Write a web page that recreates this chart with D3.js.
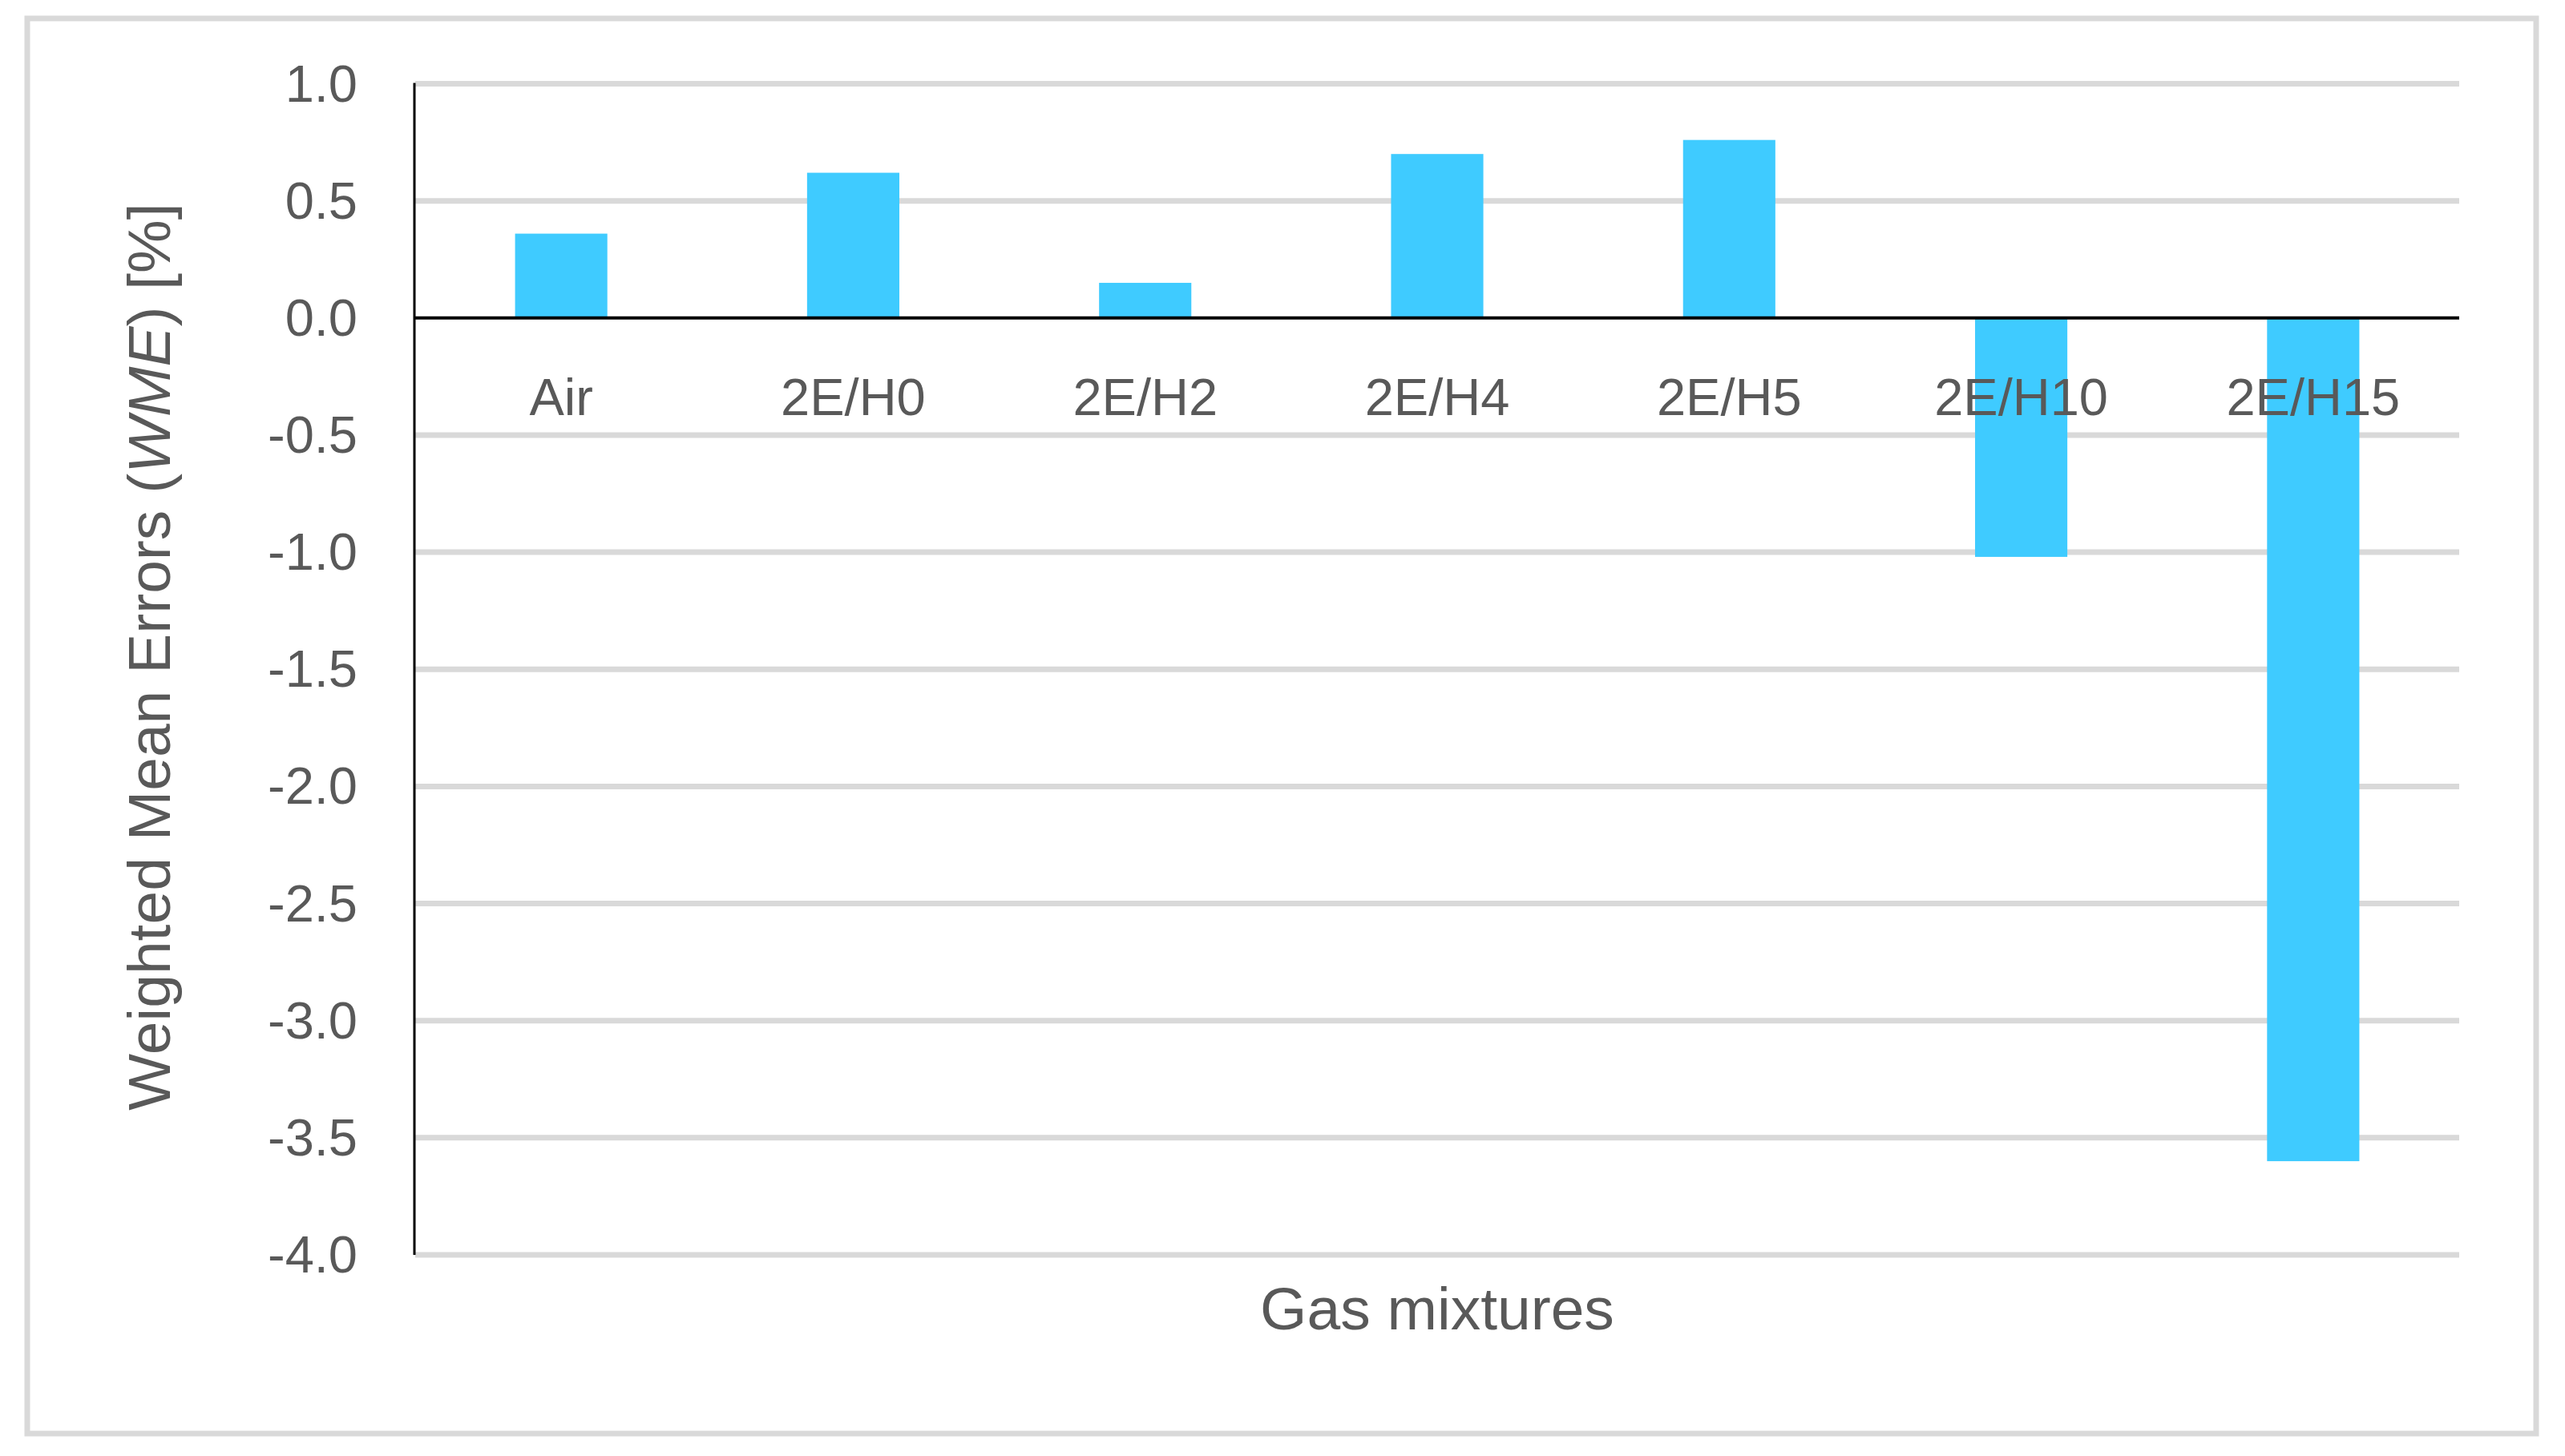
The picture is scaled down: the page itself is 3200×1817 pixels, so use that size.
<!DOCTYPE html>
<meta charset="utf-8">
<style>
  body { margin: 0; background: #fff; }
  svg { display: block; font-family: "Liberation Sans", Arial, sans-serif; }
  .grid line { stroke: #d9d9d9; stroke-width: 7; }
  .lbl { fill: #595959; }
</style>
<svg></svg>
<script src="https://d3js.org/d3.v7.min.js"></script>
<script>

// chart values
var categories = ["Air", "2E/H0", "2E/H2", "2E/H4", "2E/H5", "2E/H10", "2E/H15"];
var wme = [0.36, 0.62, 0.15, 0.70, 0.76, -1.02, -3.60];
var yTicks = [1.0, 0.5, 0.0, -0.5, -1.0, -1.5, -2.0, -2.5, -3.0, -3.5, -4.0];
var xTitle = "Gas mixtures";

var width = 3200, height = 1817;
var plotLeft = 518, plotRight = 3068, plotTop = 104.5, plotBottom = 1566;

var svg = d3.select("svg").attr("width", width).attr("height", height);

//outer frame
svg.append("rect")
  .attr("x", 34).attr("y", 23).attr("width", 3130).attr("height", 1766)
  .attr("fill", "#fff").attr("stroke", "#d9d9d9").attr("stroke-width", 7);

var y = d3.scaleLinear().domain([-4, 1]).range([plotBottom, plotTop]);
var x = d3.scaleBand().domain(categories).range([plotLeft, plotRight])
  .paddingInner(0.684).paddingOuter(0.342);

//gridlines
svg.append("g").attr("class", "grid")
  .selectAll("line").data(yTicks.filter(function(d) { return d !== 0; }))
  .enter().append("line")
  .attr("x1", plotLeft).attr("x2", plotRight)
  .attr("y1", function(d) { return y(d); }).attr("y2", function(d) { return y(d); });

//bars
svg.append("g").selectAll("rect").data(wme)
  .enter().append("rect")
  .attr("x", function(d, i) { return x(categories[i]); })
  .attr("width", x.bandwidth())
  .attr("y", function(d) { return y(Math.max(0, d)); })
  .attr("height", function(d) { return Math.abs(y(d) - y(0)); })
  .attr("fill", "#3fcbff");

//zero line and left axis
svg.append("line")
  .attr("x1", plotLeft).attr("x2", plotRight).attr("y1", y(0)).attr("y2", y(0))
  .attr("stroke", "#000").attr("stroke-width", 4);
svg.append("line")
  .attr("x1", plotLeft - 1).attr("x2", plotLeft - 1).attr("y1", plotTop - 1).attr("y2", plotBottom)
  .attr("stroke", "#000").attr("stroke-width", 3);

//y tick labels
svg.append("g").selectAll("text").data(yTicks)
  .enter().append("text").attr("class", "lbl")
  .attr("x", 446).attr("y", function(d) { return y(d) + 22; })
  .attr("text-anchor", "end").attr("font-size", 65)
  .text(function(d) { return d3.format(".1f")(d).replace("−", "-"); });

//category labels
svg.append("g").selectAll("text").data(categories)
  .enter().append("text").attr("class", "lbl")
  .attr("x", function(d) { return x(d) + x.bandwidth() / 2; })
  .attr("y", y(0) + 121)
  .attr("text-anchor", "middle").attr("font-size", 65)
  .text(function(d) { return d; });

//axis titles
svg.append("text").attr("class", "lbl")
  .attr("x", (plotLeft + plotRight) / 2).attr("y", 1659)
  .attr("text-anchor", "middle").attr("font-size", 75)
  .text(xTitle);

var yt = svg.append("text").attr("class", "lbl")
  .attr("transform", "translate(212,819.5) rotate(-90)")
  .attr("text-anchor", "middle").attr("font-size", 75);
yt.append("tspan").text("Weighted Mean Errors (");
yt.append("tspan").attr("font-style", "italic").text("WME");
yt.append("tspan").text(") [%]");

</script>
